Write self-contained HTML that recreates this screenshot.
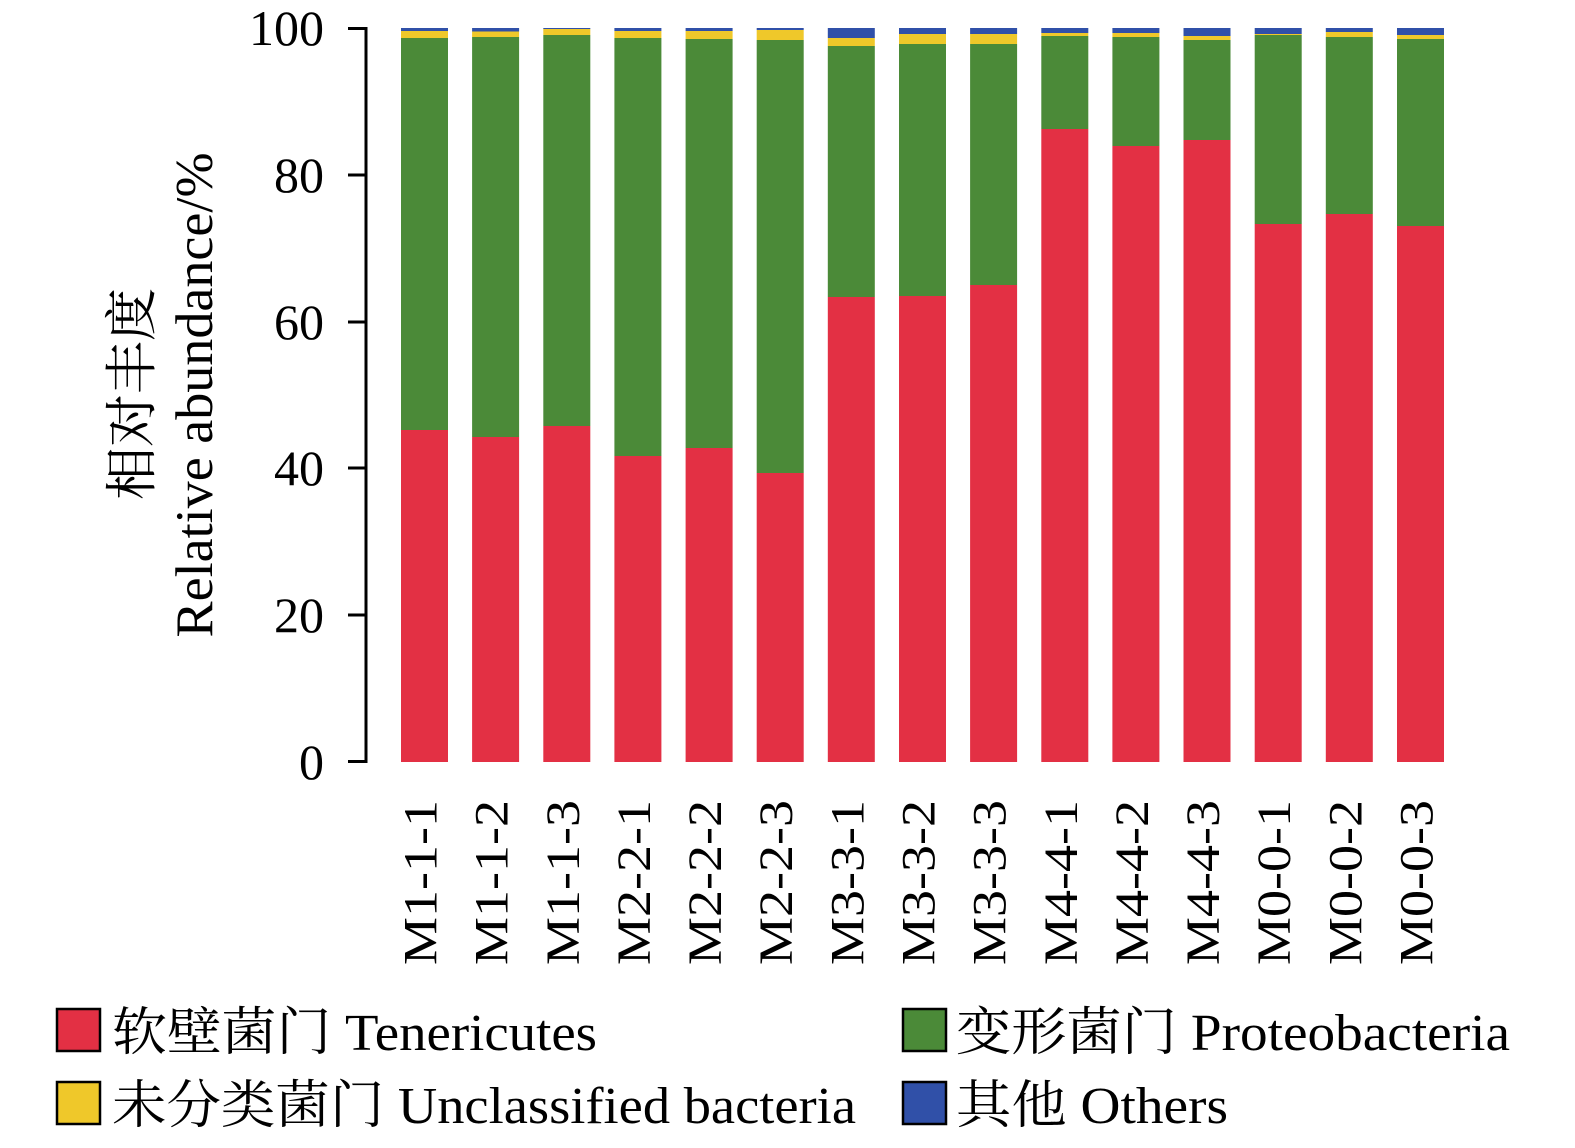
<!DOCTYPE html>
<html><head><meta charset="utf-8"><style>html,body{margin:0;padding:0;background:#fff;width:1575px;height:1148px;overflow:hidden}svg{display:block}</style></head>
<body>
<svg width="1575" height="1148" viewBox="0 0 1575 1148" xmlns="http://www.w3.org/2000/svg" font-family="Liberation Serif, Noto Serif CJK SC, serif">
<g>
<rect x="401" y="28" width="47" height="3" fill="#3050a8"/><rect x="401" y="31" width="47" height="7" fill="#efc82a"/><rect x="401" y="38" width="47" height="392" fill="#4b8a38"/><rect x="401" y="430" width="47" height="332" fill="#e33044"/>
<rect x="472.1" y="28" width="47" height="3.5" fill="#3050a8"/><rect x="472.1" y="31.5" width="47" height="5.5" fill="#efc82a"/><rect x="472.1" y="37" width="47" height="400" fill="#4b8a38"/><rect x="472.1" y="437" width="47" height="325" fill="#e33044"/>
<rect x="543.3" y="28" width="47" height="1" fill="#3050a8"/><rect x="543.3" y="29" width="47" height="6" fill="#efc82a"/><rect x="543.3" y="35" width="47" height="391" fill="#4b8a38"/><rect x="543.3" y="426" width="47" height="336" fill="#e33044"/>
<rect x="614.4" y="28" width="47" height="3" fill="#3050a8"/><rect x="614.4" y="31" width="47" height="7" fill="#efc82a"/><rect x="614.4" y="38" width="47" height="418" fill="#4b8a38"/><rect x="614.4" y="456" width="47" height="306" fill="#e33044"/>
<rect x="685.6" y="28" width="47" height="3" fill="#3050a8"/><rect x="685.6" y="31" width="47" height="8" fill="#efc82a"/><rect x="685.6" y="39" width="47" height="409" fill="#4b8a38"/><rect x="685.6" y="448" width="47" height="314" fill="#e33044"/>
<rect x="756.7" y="28" width="47" height="2" fill="#3050a8"/><rect x="756.7" y="30" width="47" height="10" fill="#efc82a"/><rect x="756.7" y="40" width="47" height="433" fill="#4b8a38"/><rect x="756.7" y="473" width="47" height="289" fill="#e33044"/>
<rect x="827.8" y="28" width="47" height="10" fill="#3050a8"/><rect x="827.8" y="38" width="47" height="8" fill="#efc82a"/><rect x="827.8" y="46" width="47" height="251" fill="#4b8a38"/><rect x="827.8" y="297" width="47" height="465" fill="#e33044"/>
<rect x="899" y="28" width="47" height="6" fill="#3050a8"/><rect x="899" y="34" width="47" height="10" fill="#efc82a"/><rect x="899" y="44" width="47" height="252" fill="#4b8a38"/><rect x="899" y="296" width="47" height="466" fill="#e33044"/>
<rect x="970.1" y="28" width="47" height="6" fill="#3050a8"/><rect x="970.1" y="34" width="47" height="10" fill="#efc82a"/><rect x="970.1" y="44" width="47" height="241" fill="#4b8a38"/><rect x="970.1" y="285" width="47" height="477" fill="#e33044"/>
<rect x="1041.3" y="28" width="47" height="5" fill="#3050a8"/><rect x="1041.3" y="33" width="47" height="3" fill="#efc82a"/><rect x="1041.3" y="36" width="47" height="93" fill="#4b8a38"/><rect x="1041.3" y="129" width="47" height="633" fill="#e33044"/>
<rect x="1112.4" y="28" width="47" height="5" fill="#3050a8"/><rect x="1112.4" y="33" width="47" height="4" fill="#efc82a"/><rect x="1112.4" y="37" width="47" height="109" fill="#4b8a38"/><rect x="1112.4" y="146" width="47" height="616" fill="#e33044"/>
<rect x="1183.5" y="28" width="47" height="8" fill="#3050a8"/><rect x="1183.5" y="36" width="47" height="4" fill="#efc82a"/><rect x="1183.5" y="40" width="47" height="100" fill="#4b8a38"/><rect x="1183.5" y="140" width="47" height="622" fill="#e33044"/>
<rect x="1254.7" y="28" width="47" height="6" fill="#3050a8"/><rect x="1254.7" y="34" width="47" height="1" fill="#efc82a"/><rect x="1254.7" y="35" width="47" height="189" fill="#4b8a38"/><rect x="1254.7" y="224" width="47" height="538" fill="#e33044"/>
<rect x="1325.8" y="28" width="47" height="4" fill="#3050a8"/><rect x="1325.8" y="32" width="47" height="5" fill="#efc82a"/><rect x="1325.8" y="37" width="47" height="177" fill="#4b8a38"/><rect x="1325.8" y="214" width="47" height="548" fill="#e33044"/>
<rect x="1397" y="28" width="47" height="7" fill="#3050a8"/><rect x="1397" y="35" width="47" height="4" fill="#efc82a"/><rect x="1397" y="39" width="47" height="187" fill="#4b8a38"/><rect x="1397" y="226" width="47" height="536" fill="#e33044"/>
</g>
<g font-size="48" text-anchor="end">
<text transform="translate(436.5,800) rotate(-90)" textLength="165" lengthAdjust="spacingAndGlyphs">M1-1-1</text>
<text transform="translate(507.6,800) rotate(-90)" textLength="165" lengthAdjust="spacingAndGlyphs">M1-1-2</text>
<text transform="translate(578.8,800) rotate(-90)" textLength="165" lengthAdjust="spacingAndGlyphs">M1-1-3</text>
<text transform="translate(649.9,800) rotate(-90)" textLength="165" lengthAdjust="spacingAndGlyphs">M2-2-1</text>
<text transform="translate(721.1,800) rotate(-90)" textLength="165" lengthAdjust="spacingAndGlyphs">M2-2-2</text>
<text transform="translate(792.2,800) rotate(-90)" textLength="165" lengthAdjust="spacingAndGlyphs">M2-2-3</text>
<text transform="translate(863.3,800) rotate(-90)" textLength="165" lengthAdjust="spacingAndGlyphs">M3-3-1</text>
<text transform="translate(934.5,800) rotate(-90)" textLength="165" lengthAdjust="spacingAndGlyphs">M3-3-2</text>
<text transform="translate(1005.6,800) rotate(-90)" textLength="165" lengthAdjust="spacingAndGlyphs">M3-3-3</text>
<text transform="translate(1076.8,800) rotate(-90)" textLength="165" lengthAdjust="spacingAndGlyphs">M4-4-1</text>
<text transform="translate(1147.9,800) rotate(-90)" textLength="165" lengthAdjust="spacingAndGlyphs">M4-4-2</text>
<text transform="translate(1219,800) rotate(-90)" textLength="165" lengthAdjust="spacingAndGlyphs">M4-4-3</text>
<text transform="translate(1290.2,800) rotate(-90)" textLength="165" lengthAdjust="spacingAndGlyphs">M0-0-1</text>
<text transform="translate(1361.3,800) rotate(-90)" textLength="165" lengthAdjust="spacingAndGlyphs">M0-0-2</text>
<text transform="translate(1432.5,800) rotate(-90)" textLength="165" lengthAdjust="spacingAndGlyphs">M0-0-3</text>
</g>
<g stroke="#000" stroke-width="3" fill="none">
<path d="M366 27V763"/>
<path d="M348 28.5H366M348 175H366M348 322H366M348 468H366M348 615H366M348 761.5H366"/>
</g>
<g font-size="50" text-anchor="end">
<text x="324" y="45">100</text><text x="324" y="192">80</text><text x="324" y="339">60</text><text x="324" y="485">40</text><text x="324" y="632">20</text><text x="324" y="779">0</text>
</g>
<text transform="translate(150,394) rotate(-90)" text-anchor="middle" font-size="53">相对丰度</text>
<text transform="translate(212,395) rotate(-90)" text-anchor="middle" font-size="53" textLength="485" lengthAdjust="spacingAndGlyphs">Relative abundance/%</text>
<g stroke="#000" stroke-width="2.5">
<rect x="57" y="1009" width="43" height="42" fill="#e33044"/>
<rect x="903" y="1009" width="43" height="42" fill="#4b8a38"/>
<rect x="57" y="1082" width="43" height="42" fill="#efc82a"/>
<rect x="903" y="1082" width="43" height="42" fill="#3050a8"/>
</g>
<g font-size="52">
<text x="112" y="1050" textLength="485" lengthAdjust="spacingAndGlyphs">软壁菌门 Tenericutes</text>
<text x="956" y="1050" textLength="554" lengthAdjust="spacingAndGlyphs">变形菌门 Proteobacteria</text>
<text x="112" y="1123" textLength="744" lengthAdjust="spacingAndGlyphs">未分类菌门 Unclassified bacteria</text>
<text x="956" y="1123" textLength="272" lengthAdjust="spacingAndGlyphs">其他 Others</text>
</g>
</svg>
</body></html>
